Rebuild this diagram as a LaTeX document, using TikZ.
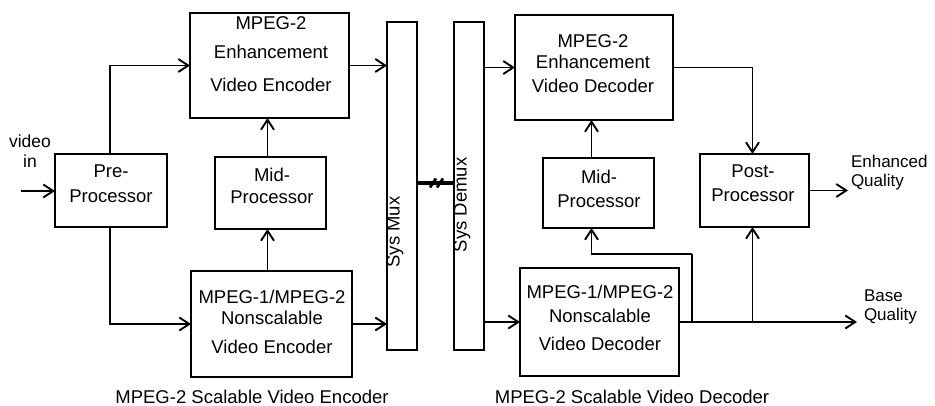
\documentclass[tikz,border=0pt]{standalone}
\usepackage{fontspec}
\setmainfont{Liberation Sans}
\usetikzlibrary{arrows.meta,calc}
\tikzset{
  box/.style={draw, line width=2pt, inner sep=0pt, outer sep=0pt},
  txt/.style={inner sep=0pt, outer sep=0pt, align=center, anchor=north},
  conn/.style={line width=1.9pt, -{Straight Barb[length=10pt,width=13pt]}},
  link/.style={line width=1.9pt},
}
\newcommand{\bfs}[1]{\fontsize{18.5}{#1}\selectfont}
\begin{document}
\begin{tikzpicture}[x=1pt,y=-1pt]
\useasboundingbox (0,0) rectangle (935,406);
% boxes
\node[box, minimum width=159, minimum height=105] (enc1) at (269.5,65.5) {};
\node[box, minimum width=112, minimum height=73]  (pre)  at (111,190.5) {};
\node[box, minimum width=111, minimum height=72]  (mid1) at (270.5,193) {};
\node[box, minimum width=161, minimum height=106] (enc2) at (271.5,324) {};
\node[box, minimum width=30,  minimum height=328] (mux)  at (402,186) {};
\node[box, minimum width=30,  minimum height=328] (demux) at (469,186) {};
\node[box, minimum width=158, minimum height=105] (dec1) at (594,67.5) {};
\node[box, minimum width=111, minimum height=70]  (mid2) at (598.5,193) {};
\node[box, minimum width=109, minimum height=73]  (post) at (754.5,190.5) {};
\node[box, minimum width=159, minimum height=108] (dec2) at (599.5,322) {};
% box texts
\node[txt, font=\bfs{29}] (t1) at (271,16.7) {MPEG-2\\Enhancement\\[4pt]Video Encoder};
\node[txt, font=\bfs{25}] (t2) at (111,164.7) {Pre-\\Processor};
\node[txt, font=\bfs{22}] (t3) at (272,167.7) {Mid-\\Processor};
\node[txt, font=\bfs{21}] (t4) at (272,289.7) {MPEG-1/MPEG-2\\Nonscalable\\[8pt]Video Encoder};
\node[txt, font=\bfs{21}] (t5) at (593,34.7) {MPEG-2\\Enhancement\\[3pt]Video Decoder};
\node[txt, font=\bfs{24}] (t6) at (599,169.7) {Mid-\\Processor};
\node[txt, font=\bfs{24}] (t7) at (753,164.7) {Post-\\Processor};
\node[txt, font=\bfs{24}] (t8) at (600,284.7) {MPEG-1/MPEG-2\\Nonscalable\\[4pt]Video Decoder};
\node[inner sep=0pt, rotate=90, font=\bfs{22}] (tm) at (395,232) {Sys Mux};
\node[inner sep=0pt, rotate=90, font=\bfs{22}] (td) at (462,205) {Sys Demux};
% outer labels
\node[txt, font=\fontsize{17.5}{20}\selectfont] (vinl) at (30,135.2) {video\\in};
\node[txt, anchor=north west, align=left, font=\fontsize{17}{19}\selectfont] (eql) at (851,155.5) {Enhanced\\Quality};
\node[txt, anchor=north west, align=left, font=\fontsize{17}{19}\selectfont] (bql) at (864,289.8) {Base\\Quality};
\node[inner sep=0pt, anchor=base, font=\bfs{22}] (cap1) at (252,403) {MPEG-2 Scalable Video Encoder};
\node[inner sep=0pt, anchor=base, font=\bfs{22}] (cap2) at (632,403) {MPEG-2 Scalable Video Decoder};
% encoder connectors
\coordinate (vin) at (21,191);
\draw[conn] (vin) -- (vin -| pre.west);
\draw[conn] ([xshift=-1]pre.north) |- (enc1.west);
\draw[conn] ([xshift=-1]pre.south) |- (enc2.west);
\draw[conn] (enc1.east) -- (enc1.east -| mux.west);
\draw[conn] (enc2.east) -- (enc2.east -| mux.west);
\draw[conn] ([xshift=-3]mid1.north) -- ([xshift=-3]mid1.north |- enc1.south);
\draw[conn] ([xshift=-3]mid1.south |- enc2.north) -- ([xshift=-3]mid1.south);
% channel
\draw[line width=3.2pt] ([yshift=3]mux.east) -- ([yshift=3]demux.west);
\coordinate (brk) at ($([yshift=3]mux.east)!0.5!([yshift=3]demux.west)$);
\draw[line width=2.8pt] ([shift={(-5.5,4.5)}]brk) -- ([shift={(0.5,-4.5)}]brk);
\draw[line width=2.8pt] ([shift={(1.5,4.5)}]brk) -- ([shift={(7.5,-4.5)}]brk);
% decoder connectors
\draw[conn] (dec1.west -| demux.east) -- (dec1.west);
\draw[conn] (dec2.west -| demux.east) -- (dec2.west);
\draw[conn] (dec1.east) -| ([xshift=-2]post.north);
\draw[conn] ([xshift=-7]mid2.north) -- ([xshift=-7]mid2.north |- dec1.south);
\coordinate (bq) at (857,323);
\draw[conn] (dec2.east) -- (dec2.east -| bq);
\coordinate (j1) at (692,254);
\draw[link] (dec2.east -| j1) -- (j1);
\draw[conn] (j1) -| ([xshift=-7]mid2.south);
\draw[conn] ([xshift=-2]dec2.east -| post) -- ([xshift=-2]post.south);
\coordinate (eq) at (848,189);
\draw[conn] (post.east) -- (post.east -| eq);
\end{tikzpicture}
\end{document}
